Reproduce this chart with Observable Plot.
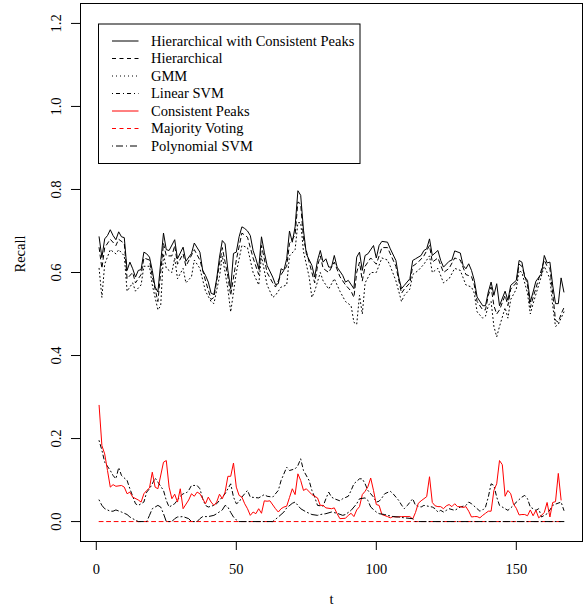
<!DOCTYPE html>
<html>
<head>
<meta charset="utf-8">
<script src="https://cdn.jsdelivr.net/npm/d3@7"></script>
<script src="https://cdn.jsdelivr.net/npm/@observablehq/plot@0.6"></script>
<style>
  html, body { margin: 0; padding: 0; background: white; }
  #wrap { position: relative; width: 583px; height: 616px; }
  #legend { position: absolute; left: 0; top: 0; }
  #wrap svg text { font-family: 'Liberation Serif', 'Times New Roman', serif; font-variant-numeric: normal; }
</style>
</head>
<body>
<div id="wrap"></div>
<script>
// ---- Data ----
const xTicks = [0, 50, 100, 150];
const yTicks = [0.0, 0.2, 0.4, 0.6, 0.8, 1.0, 1.2];
const seriesNames = ["Hierarchical with Consistent Peaks", "Hierarchical", "GMM", "Linear SVM", "Consistent Peaks", "Majority Voting", "Polynomial SVM"];

const tHWCP = [1,2,3,4,5,6,7,8,9,10,11,12,13,14,15,16,17,18,19,20,21,22,24,25,26,28,29,31,32,34,35,37,38,39,40,41,42,43,44,45,46,47,48,49,50,51,52,53,54,55,56,57,58,59,60,61,63,64,65,66,67,68,69,70,71,72,73,74,75,77,78,79,80,81,82,83,84,85,86,88,89,90,92,93,94,95,96,97,99,100,101,102,104,105,107,108,109,110,112,113,114,116,117,118,119,120,122,123,124,126,127,128,130,131,132,133,134,135,136,138,139,140,141,142,143,144,146,147,148,150,151,152,153,154,155,156,157,159,160,161,162,163,164,165,166,167];
const vHWCP = [.686,.636,.681,.689,.703,.689,.679,.698,.686,.684,.605,.625,.609,.589,.605,.607,.649,.645,.637,.605,.565,.553,.695,.655,.653,.679,.633,.661,.627,.646,.671,.649,.605,.593,.577,.550,.547,.585,.637,.677,.669,.605,.561,.646,.649,.686,.710,.706,.700,.689,.653,.633,.609,.686,.649,.617,.589,.571,.573,.609,.605,.633,.700,.673,.710,.797,.786,.702,.645,.617,.589,.629,.653,.625,.633,.613,.613,.641,.613,.593,.577,.581,.561,.637,.649,.605,.641,.645,.665,.635,.665,.675,.673,.657,.629,.589,.561,.569,.585,.629,.633,.641,.653,.657,.681,.641,.653,.629,.613,.627,.630,.652,.647,.617,.609,.621,.605,.581,.541,.520,.520,.553,.577,.545,.573,.520,.555,.533,.569,.581,.629,.625,.589,.581,.529,.553,.579,.597,.641,.623,.625,.569,.525,.525,.587,.553];

const tHier = [1,2,3,5,7,8,10,11,13,14,16,17,19,20,22,24,25,27,28,29,31,32,35,37,39,41,42,44,45,47,48,50,52,54,56,58,59,61,63,64,66,68,69,71,72,73,74,76,78,79,80,81,83,85,87,89,91,92,93,94,95,96,98,100,102,104,105,107,109,110,112,113,115,117,119,120,122,124,126,128,130,132,134,135,136,138,139,140,141,142,143,144,146,147,148,150,151,152,154,155,156,158,160,161,162,163,164,165,166,167];
const vHier = [.66,.61,.66,.68,.665,.68,.67,.585,.60,.575,.595,.635,.63,.59,.53,.67,.64,.64,.665,.62,.645,.615,.655,.63,.58,.535,.54,.62,.66,.59,.545,.63,.695,.685,.635,.595,.665,.60,.575,.565,.595,.615,.67,.69,.77,.765,.68,.625,.575,.615,.64,.61,.60,.625,.59,.57,.555,.54,.60,.625,.58,.615,.635,.62,.66,.66,.645,.615,.55,.56,.575,.615,.625,.64,.665,.625,.635,.60,.61,.635,.63,.595,.59,.57,.53,.51,.51,.545,.565,.52,.50,.51,.545,.52,.56,.575,.62,.615,.57,.515,.54,.585,.63,.615,.61,.55,.485,.48,.50,.515];

const tGMM = [1,2,3,5,7,8,10,11,13,14,16,17,19,20,22,23,24,25,27,28,29,31,32,34,35,37,39,41,42,44,45,47,48,50,52,54,56,58,59,61,63,64,66,68,69,71,72,73,74,76,77,78,80,81,83,85,87,89,91,92,93,94,95,96,98,100,102,104,105,107,109,110,112,113,115,117,119,120,122,124,126,128,130,132,134,135,136,138,139,140,141,142,143,144,146,147,148,150,151,152,154,155,156,158,160,161,162,163,164,165,166,167];
const vGMM = [.61,.54,.62,.655,.645,.655,.64,.555,.575,.555,.57,.615,.615,.57,.51,.52,.645,.61,.60,.635,.585,.61,.575,.59,.63,.61,.555,.53,.525,.59,.64,.56,.505,.60,.665,.66,.60,.57,.64,.57,.54,.545,.565,.57,.64,.655,.72,.72,.65,.59,.54,.555,.60,.58,.56,.585,.555,.53,.52,.48,.475,.545,.50,.575,.60,.60,.635,.63,.615,.58,.53,.545,.56,.595,.605,.62,.64,.60,.61,.575,.585,.61,.605,.57,.565,.55,.505,.49,.495,.52,.53,.47,.445,.47,.515,.49,.535,.56,.605,.60,.55,.50,.525,.57,.615,.60,.585,.52,.47,.475,.49,.505];

const tLin = [1,2,3,5,6,7,8,9,11,12,13,14,15,17,18,19,20,21,22,24,25,26,27,28,30,31,32,33,34,36,37,38,39,40,42,43,44,45,46,48,49,50,51,52,54,55,58,60,61,63,65,66,68,69,71,72,73,74,76,77,78,79,81,82,83,84,85,87,88,90,91,92,94,95,96,97,99,100,101,102,103,105,106,107,108,109,110,111,113,114,116,117,120,121,122,123,124,125,126,128,129,130,132,133,134,136,137,138,139,140,141,142,143,144,146,147,149,150,152,153,154,155,157,158,159,161,162,163,164,166,167];
const vLin = [.195,.172,.143,.123,.111,.103,.130,.111,.099,.079,.061,.043,.039,.047,.071,.079,.091,.105,.095,.075,.051,.035,.039,.043,.061,.067,.068,.075,.087,.087,.079,.055,.039,.035,.039,.043,.051,.059,.067,.091,.059,.043,.047,.059,.075,.059,.057,.065,.061,.059,.075,.099,.131,.123,.127,.135,.151,.123,.099,.075,.059,.039,.037,.055,.071,.059,.055,.050,.055,.061,.075,.091,.103,.103,.091,.075,.059,.047,.049,.057,.067,.073,.067,.059,.051,.040,.031,.038,.055,.039,.035,.039,.035,.031,.023,.027,.023,.027,.031,.027,.031,.035,.039,.047,.043,.031,.025,.028,.035,.059,.091,.087,.059,.039,.031,.027,.039,.047,.059,.063,.055,.035,.027,.031,.011,.019,.028,.039,.042,.047,.027];

const tCP = [1,2,3,4,5,6,7,9,10,11,12,13,15,16,17,18,19,20,21,22,24,25,26,27,28,29,30,31,33,34,35,36,37,38,39,40,41,42,43,44,45,46,47,48,49,50,51,52,53,54,55,56,57,58,59,60,61,62,64,65,66,67,68,69,70,71,72,73,74,75,77,78,79,80,81,82,84,85,86,87,89,90,91,92,93,94,95,96,97,98,99,100,101,102,104,105,106,107,109,112,113,114,115,116,118,119,120,121,122,123,124,125,126,127,128,129,130,131,132,133,134,135,136,137,138,139,140,141,142,143,144,145,146,147,148,149,150,151,152,153,154,155,156,157,158,159,160,161,162,163,164,165,166,167];
const vCP = [.280,.183,.163,.123,.083,.089,.085,.087,.083,.067,.071,.059,.052,.047,.067,.075,.081,.119,.083,.079,.143,.147,.083,.055,.066,.047,.079,.031,.052,.067,.061,.071,.067,.055,.043,.059,.047,.039,.047,.066,.055,.071,.109,.109,.141,.083,.063,.059,.043,.031,.015,.023,.019,.031,.020,.050,.049,.050,.031,.023,.031,.035,.037,.058,.079,.065,.115,.099,.075,.079,.065,.061,.057,.039,.039,.033,.031,.033,.019,.007,.008,.015,.020,.012,.028,.036,.065,.073,.084,.105,.075,.041,.039,.017,.012,.009,.012,.011,.012,.012,.006,.022,.044,.050,.060,.108,.046,.038,.036,.036,.031,.038,.041,.036,.043,.036,.036,.034,.036,.025,.011,.012,.012,.009,.015,.020,.025,.025,.075,.091,.147,.137,.061,.075,.067,.042,.032,.016,.017,.017,.014,.028,.014,.027,.009,.015,.022,.046,.011,.046,.048,.116,.052];

const tMV = [1,167];
const vMV = [0,0];

const tPoly = [1,2,3,5,6,7,9,11,12,13,15,18,19,20,22,23,24,25,27,28,29,31,33,34,36,37,38,40,42,43,45,46,47,48,49,50,51,63,65,67,68,70,71,72,73,75,77,79,80,82,84,86,88,89,91,93,94,96,97,98,100,101,103,104,106,108,110,113,114,167];
const vPoly = [.052,.039,.031,.025,.025,.028,.023,.017,.011,.007,0,0,.015,.031,.039,.035,.019,0,0,.007,.011,.012,.007,0,0,.007,.012,.012,.015,.019,.028,.039,.035,.022,.011,.004,0,0,.011,.023,.033,.044,.047,.039,.031,.023,.017,.015,.017,.019,.023,.020,.015,.017,.027,.043,.055,.057,.051,.035,.023,.019,.017,.015,.012,.011,.009,.007,0,0];

const tLists = [tHWCP, tHier, tGMM, tLin, tCP, tMV, tPoly];
const vLists = [vHWCP, vHier, vGMM, vLin, vCP, vMV, vPoly];
const colors = ["black", "black", "black", "black", "#ff0000", "#ff0000", "black"];
const dashes = [null, "4,3.5", "1,3", "1,3,4,3", null, "4,3.5", "1,3,7,3"];

const font = "'Liberation Serif', 'Times New Roman', serif";

const lineMarks = seriesNames.map((name, k) => {
  const rows = tLists[k].map((t, i) => ({t, v: vLists[k][i]}));
  return Plot.line(rows, {x: "t", y: "v", stroke: colors[k], strokeWidth: 1, strokeDasharray: dashes[k] ?? undefined});
});

const chart = Plot.plot({
  width: 583,
  height: 616,
  marginLeft: 80,
  marginRight: 1,
  marginTop: 3,
  marginBottom: 75,
  style: {fontFamily: font, fontSize: "14.5px", background: "white", color: "black"},
  x: {domain: [-5.64, 173.64]},
  y: {domain: [-0.048, 1.248]},
  marks: [
    Plot.frame({stroke: "black", strokeWidth: 1}),
    ...lineMarks,
    Plot.axisX(xTicks, {tickSize: 9, tickPadding: 13, label: null, fontSize: 14.5, fontFamily: font, stroke: "black"}),
    Plot.axisY(yTicks, {tickSize: 9, tickPadding: 11, tickRotate: -90, tickFormat: d => d.toFixed(1), label: null, fontSize: 14.5, fontFamily: font, stroke: "black"}),
    Plot.text(["t"], {frameAnchor: "bottom", dy: 62, fontSize: 14.5, fontFamily: font}),
    Plot.text(["Recall"], {frameAnchor: "left", dx: -60, rotate: -90, fontSize: 14.5, fontFamily: font})
  ]
});
document.getElementById("wrap").appendChild(chart);

// ---- Legend (drawn inside plot region, like R's legend("topleft")) ----
const legend = d3.select("#wrap").append("svg")
  .attr("id", "legend").attr("width", 583).attr("height", 616)
  .style("pointer-events", "none");
const box = {x: 98.5, y: 24, w: 261.5, h: 139.5};
legend.append("rect").attr("x", box.x).attr("y", box.y).attr("width", box.w).attr("height", box.h)
  .attr("fill", "white").attr("stroke", "black").attr("stroke-width", 1);
seriesNames.forEach((name, k) => {
  const cy = 41 + k * 17.5;
  legend.append("line").attr("x1", 112).attr("x2", 138.5).attr("y1", cy).attr("y2", cy)
    .attr("stroke", colors[k]).attr("stroke-width", 1)
    .attr("stroke-dasharray", dashes[k]);
  legend.append("text").attr("x", 151).attr("y", cy).attr("dy", "0.33em")
    .attr("font-family", font).attr("font-size", "14.5px").attr("fill", "black")
    .text(name);
});
</script>
</body>
</html>
